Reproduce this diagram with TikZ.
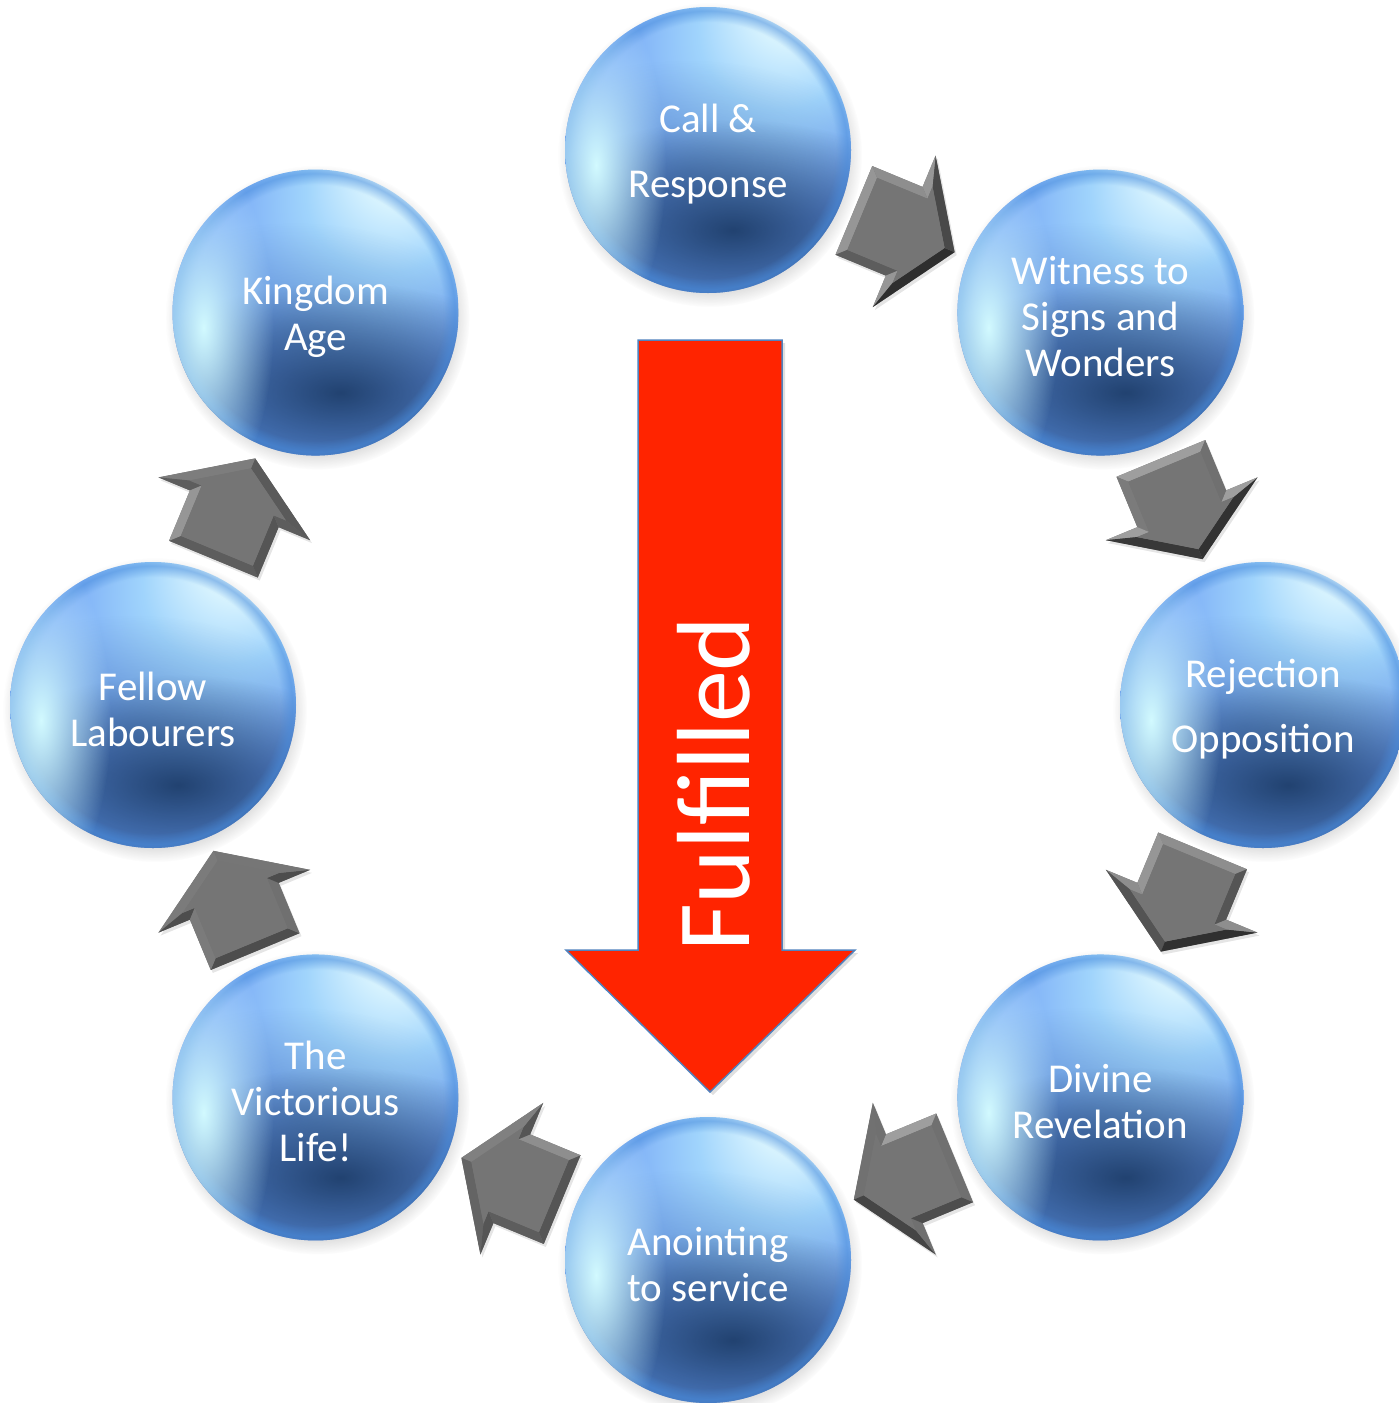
\documentclass[tikz,border=0pt]{standalone}
\usepackage{fontspec}
\setmainfont{Carlito}
\usetikzlibrary{calc,fadings}

\definecolor{hlA}{RGB}{228,250,255}
\definecolor{bA}{RGB}{160,212,252}
\definecolor{bB}{RGB}{112,160,244}
\definecolor{bC}{RGB}{82,142,226}
\definecolor{bD}{RGB}{66,128,210}
\definecolor{navy}{RGB}{22,52,92}
\definecolor{midnavy}{RGB}{45,90,150}
\definecolor{rim}{RGB}{72,140,220}
\definecolor{refl}{RGB}{210,250,255}
\definecolor{redarrow}{RGB}{255,36,0}
\definecolor{arrowline}{RGB}{80,130,190}

\pgfdeclareradialshading{sph}{\pgfpoint{17bp}{29bp}}{color(0bp)=(white); color(5bp)=(hlA); color(14bp)=(bA); color(27bp)=(bB); color(42bp)=(bC); color(50bp)=(bD)}
\tikzfading[name=softspot, inner color=transparent!0, outer color=transparent!100]

\tikzset{
  sphere/.style={circle, minimum size=286pt, inner sep=0pt, yshift=-4pt,
    text=white, align=center, font=\fontsize{41}{46}\selectfont},
  widesphere/.style={sphere, font=\fontsize{41}{65}\selectfont},
  facecol/.style={fill=white!46!black}
}

\def\outerpoly{(-54.5,-48) -- (0,-48) -- (0,-82) -- (54.5,0) -- (0,82) -- (0,48) -- (-54.5,48) -- cycle}
\def\innerpoly{(-45.5,-39) -- (9,-39) -- (9,-52.2) -- (43.7,0) -- (9,52.2) -- (9,39) -- (-45.5,39) -- cycle}

\newcommand\facet[2]{% #1 = local normal angle, #2 = extra
  \pgfmathsetmacro\bb{46+16*cos(\arrang+#1-120)+#2}%
  \fill[white!\bb!black]}

\newcommand\bevarrow[2]{%
  \pgfmathanglebetweenpoints{\pgfpointanchor{#1}{center}}{\pgfpointanchor{#2}{center}}%
  \let\arrang\pgfmathresult
  \begin{scope}[shift={($(#1)!0.5!(#2)+(0,4)$)}]
    \begin{scope}[shift={(2,-3)}, rotate=\arrang]
      \fill[black, opacity=.1] \outerpoly;
    \end{scope}
    \begin{scope}[rotate=\arrang]
      \fill[facecol] \outerpoly;
      \facet{180}{0} (-54.5,48) -- (-54.5,-48) -- (-45.5,-39) -- (-45.5,39) -- cycle;
      \facet{-90}{0} (-54.5,-48) -- (0,-48) -- (9,-39) -- (-45.5,-39) -- cycle;
      \facet{180}{0} (0,-48) -- (0,-82) -- (9,-52.2) -- (9,-39) -- cycle;
      \facet{-33.6}{-12} (0,-82) -- (54.5,0) -- (43.7,0) -- (9,-52.2) -- cycle;
      \facet{33.6}{-12} (54.5,0) -- (0,82) -- (9,52.2) -- (43.7,0) -- cycle;
      \facet{180}{0} (0,82) -- (0,48) -- (9,39) -- (9,52.2) -- cycle;
      \facet{90}{0} (0,48) -- (-54.5,48) -- (-45.5,39) -- (9,39) -- cycle;
      \fill[facecol] \innerpoly;
    \end{scope}
  \end{scope}}

\begin{document}
\begin{tikzpicture}[x=1pt, y=1pt]
\useasboundingbox (0,0) rectangle (1398,-1403);
\fill[white] (0,0) rectangle (1398,-1403);
\coordinate (ring) at (708,-705);

% sphere bodies
\foreach \a in {90,45,0,-45,-90,-135,180,135}{
  \begin{scope}[shift={($(ring)+(\a:555)$)}]
    \fill[black!60, opacity=.3, path fading=circle with fuzzy edge 15 percent] (2,-5) circle (152);
    \begin{scope}
      \clip (0,0) circle (143);
      \shade[shading=sph] (0,0) circle (143);
      \fill[midnavy, opacity=.35, path fading=softspot] (-20,-20) ellipse [x radius=200, y radius=110];
      \fill[navy, opacity=.85, path fading=softspot] (25,-80) ellipse [x radius=220, y radius=110];
      \fill[rim, opacity=.55, path fading=fuzzy ring 15 percent] (0,0) circle (150);
      \fill[refl, path fading=softspot] (-112,-15) ellipse [x radius=70, y radius=170];
    \end{scope}
  \end{scope}
}

% red arrow
\fill[black, opacity=.12] (641,-343) -- (785,-343) -- (785,-953) -- (858,-953) -- (713,-1095) -- (569,-953) -- (641,-953) -- cycle;
\draw[arrowline, line width=1.5pt, fill=redarrow, line join=miter]
  (638,-340) -- (782,-340) -- (782,-950) -- (855,-950) -- (710,-1092) -- (566,-950) -- (638,-950) -- cycle;
\node[rotate=90, anchor=base, text=white, inner sep=0pt, font=\fontsize{104}{112}\selectfont] (ful) at (749,-784) {Fulfilled};

% spheres (text)
\node[widesphere] (s1) at ($(ring)+(90:555)$) {Call \&\\Response};
\node[sphere] (s2) at ($(ring)+(45:555)$) {Witness to\\Signs and\\Wonders};
\node[widesphere] (s3) at ($(ring)+(0:555)$) {Rejection\\Opposition};
\node[sphere] (s4) at ($(ring)+(-45:555)$) {Divine\\Revelation};
\node[sphere] (s5) at ($(ring)+(-90:555)$) {Anointing\\to service};
\node[sphere] (s6) at ($(ring)+(-135:555)$) {The\\Victorious\\Life!};
\node[sphere] (s7) at ($(ring)+(180:555)$) {Fellow\\Labourers};
\node[sphere] (s8) at ($(ring)+(135:555)$) {Kingdom\\Age};

% gray bevelled arrows
\bevarrow{s1}{s2}
\bevarrow{s2}{s3}
\bevarrow{s3}{s4}
\bevarrow{s4}{s5}
\bevarrow{s5}{s6}
\bevarrow{s6}{s7}
\bevarrow{s7}{s8}
\end{tikzpicture}
\end{document}
